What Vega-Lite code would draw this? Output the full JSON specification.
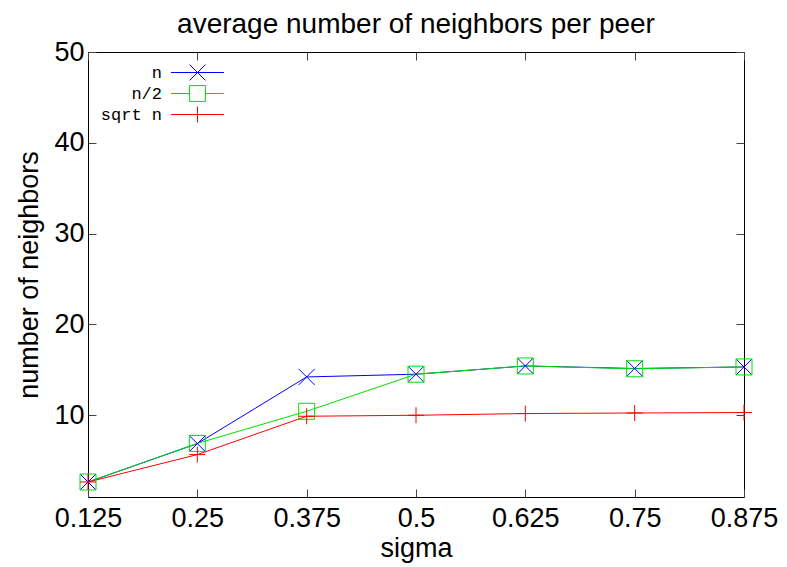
{
  "$schema": "https://vega.github.io/schema/vega-lite/v6.json",
  "autosize": {"type": "none"},
  "padding": {"left": 88, "top": 52, "right": 43, "bottom": 70},
  "width": 656,
  "height": 445,
  "background": "white",
  "config": {
    "font": "Liberation Sans",
    "view": {"stroke": "black", "strokeWidth": 1},
    "axis": {"grid": false, "domain": false, "tickColor": "#444", "labelColor": "black", "titleColor": "black", "labelFont": "Liberation Sans", "titleFont": "Liberation Sans", "titleFontWeight": "normal"},
    "legend": {
      "title": null, "orient": "none", "legendX": 101, "legendY": 12, "padding": 0,
      "labelFont": "Liberation Mono", "labelFontSize": 17, "labelColor": "black", "labelAlign": "right", "labelOffset": -44, "rowPadding": 0,
      "symbolStrokeWidth": 1, "symbolSize": 112, "symbolOpacity": 1, "symbolFillColor": "transparent"
    }
  },
  "title": {"text": "average number of neighbors per peer", "fontSize": 28, "fontWeight": "normal", "font": "Liberation Sans", "offset": -1, "color": "black"},
  "data": {"values": [
    {"sigma": 0.125, "value": 2.65, "series": "n"},
    {"sigma": 0.25, "value": 6.88, "series": "n"},
    {"sigma": 0.375, "value": 14.22, "series": "n"},
    {"sigma": 0.5, "value": 14.52, "series": "n"},
    {"sigma": 0.625, "value": 15.43, "series": "n"},
    {"sigma": 0.75, "value": 15.15, "series": "n"},
    {"sigma": 0.875, "value": 15.32, "series": "n"},
    {"sigma": 0.125, "value": 2.65, "series": "n/2"},
    {"sigma": 0.25, "value": 6.9, "series": "n/2"},
    {"sigma": 0.375, "value": 10.44, "series": "n/2"},
    {"sigma": 0.5, "value": 14.52, "series": "n/2"},
    {"sigma": 0.625, "value": 15.43, "series": "n/2"},
    {"sigma": 0.75, "value": 15.12, "series": "n/2"},
    {"sigma": 0.875, "value": 15.32, "series": "n/2"},
    {"sigma": 0.125, "value": 2.65, "series": "sqrt n"},
    {"sigma": 0.25, "value": 5.67, "series": "sqrt n"},
    {"sigma": 0.375, "value": 9.89, "series": "sqrt n"},
    {"sigma": 0.5, "value": 10.0, "series": "sqrt n"},
    {"sigma": 0.625, "value": 10.19, "series": "sqrt n"},
    {"sigma": 0.75, "value": 10.25, "series": "sqrt n"},
    {"sigma": 0.875, "value": 10.3, "series": "sqrt n"}
  ]},
  "layer": [
    {
      "mark": {"type": "line", "strokeWidth": 1},
      "encoding": {
        "x": {"field": "sigma", "type": "quantitative", "scale": {"domain": [0.125, 0.875], "nice": false, "zero": false},
          "axis": {"orient": "bottom", "values": [0.125, 0.25, 0.375, 0.5, 0.625, 0.75, 0.875], "format": ".3~f", "title": "sigma", "tickSize": -8, "labelPadding": 16, "labelFontSize": 27, "titleFontSize": 27, "titlePadding": 4, "labelFlush": false}},
        "y": {"field": "value", "type": "quantitative", "scale": {"domain": [1, 50], "nice": false, "zero": false},
          "axis": {"orient": "left", "values": [10, 20, 30, 40, 50], "title": "number of neighbors", "tickSize": -8, "labelPadding": 12, "labelFontSize": 27, "titleFontSize": 27, "titlePadding": 10, "labelFlush": false}},
        "color": {"field": "series", "type": "nominal", "scale": {"domain": ["n", "n/2", "sqrt n"], "range": ["#0000ff", "#00e000", "#ff0000"]}, "legend": null}
      }
    },
    {
      "mark": {"type": "point", "filled": false, "strokeWidth": 1, "size": 256, "opacity": 1},
      "encoding": {
        "x": {"field": "sigma", "type": "quantitative",
          "axis": {"orient": "top", "values": [0.125, 0.25, 0.375, 0.5, 0.625, 0.75, 0.875], "labels": false, "title": null, "tickSize": -8}},
        "y": {"field": "value", "type": "quantitative",
          "axis": {"orient": "right", "values": [10, 20, 30, 40, 50], "labels": false, "title": null, "tickSize": -8}},
        "color": {"field": "series", "type": "nominal", "scale": {"domain": ["n", "n/2", "sqrt n"], "range": ["#0000ff", "#00e000", "#ff0000"]}, "legend": null},
        "shape": {"field": "series", "type": "nominal", "scale": {"domain": ["n", "n/2", "sqrt n"], "range": ["M-1,-1L1,1M-1,1L1,-1", "M-1,-1H1V1H-1Z", "M-1,0H1M0,-1V1"]}, "legend": null}
      }
    },
    {
      "mark": {"type": "point", "filled": false, "strokeWidth": 1, "size": 112, "opacity": 0},
      "encoding": {
        "x": {"field": "sigma", "type": "quantitative", "axis": null},
        "y": {"field": "value", "type": "quantitative", "axis": null},
        "color": {"field": "series", "type": "nominal", "scale": {"domain": ["n", "n/2", "sqrt n"], "range": ["#0000ff", "#00e000", "#ff0000"]}, "legend": {"symbolOpacity": 1}},
        "shape": {"field": "series", "type": "nominal", "scale": {"domain": ["n", "n/2", "sqrt n"], "range": ["M-5,0H5M-1.5,-1.5L1.5,1.5M-1.5,1.5L1.5,-1.5", "M-5,0H-1.5M1.5,0H5M-1.5,-1.5H1.5V1.5H-1.5Z", "M-5,0H5M0,-1.5V1.5"]}, "legend": {"symbolOpacity": 1}}
      }
    }
  ],
  "resolve": {"axis": {"x": "independent", "y": "independent"}, "scale": {"shape": "independent", "color": "independent"}}
}
